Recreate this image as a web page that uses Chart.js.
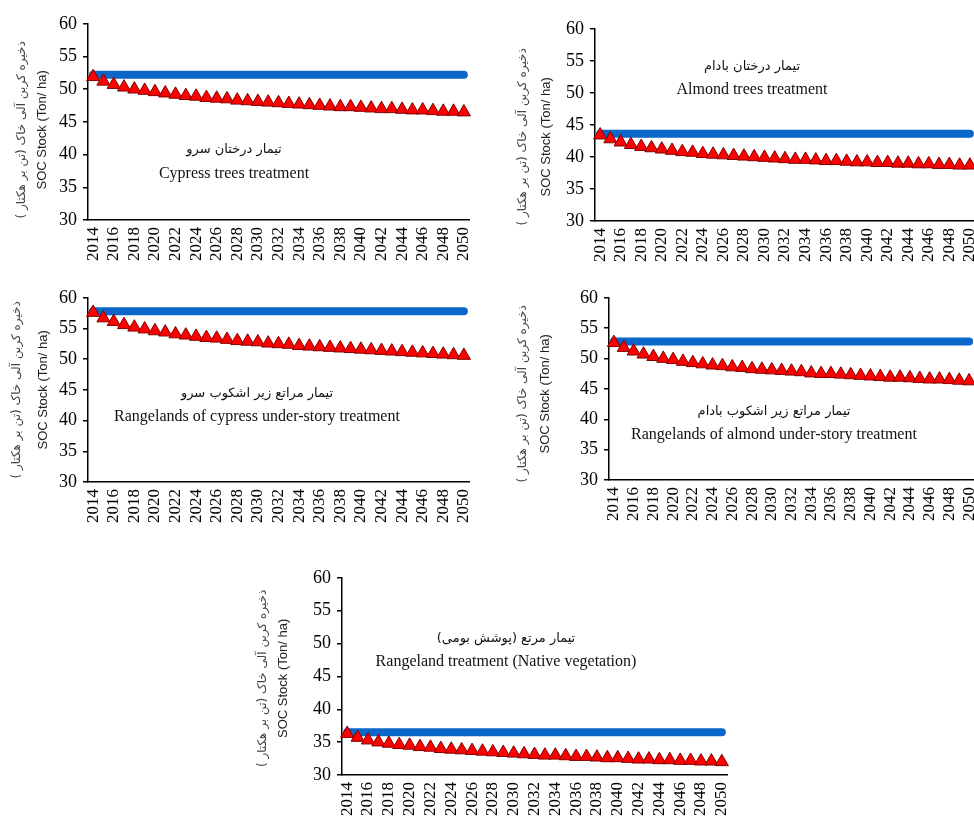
<!DOCTYPE html>
<html><head><meta charset="utf-8">
<script src="https://cdn.jsdelivr.net/npm/chart.js@4/dist/chart.umd.min.js"></script>
<style>
html,body{margin:0;padding:0;background:#fff;width:974px;height:819px;overflow:hidden;position:relative;}
canvas{position:absolute;}
</style></head><body>
<canvas id="c1"></canvas><canvas id="c2"></canvas><canvas id="c3"></canvas><canvas id="c4"></canvas><canvas id="c5"></canvas>
<script>
const years = ['2014','2015','2016','2017','2018','2019','2020','2021','2022','2023','2024','2025','2026','2027','2028','2029','2030','2031','2032','2033','2034','2035','2036','2037','2038','2039','2040','2041','2042','2043','2044','2045','2046','2047','2048','2049','2050'];
const yMin = 30, yMax = 60, yStep = 5;

// Blue: initial stock (constant), Red: projected stock
const cypressTreesBase = [52.2,52.2,52.2,52.2,52.2,52.2,52.2,52.2,52.2,52.2,52.2,52.2,52.2,52.2,52.2,52.2,52.2,52.2,52.2,52.2,52.2,52.2,52.2,52.2,52.2,52.2,52.2,52.2,52.2,52.2,52.2,52.2,52.2,52.2,52.2,52.2,52.2];
const cypressTrees = [51.9,51.2,50.7,50.3,50.0,49.8,49.6,49.4,49.2,49.0,48.9,48.7,48.6,48.5,48.3,48.2,48.1,48.0,47.9,47.8,47.7,47.6,47.5,47.4,47.3,47.3,47.2,47.1,47.0,47.0,46.9,46.8,46.8,46.7,46.6,46.6,46.5];

const almondTreesBase = [43.6,43.6,43.6,43.6,43.6,43.6,43.6,43.6,43.6,43.6,43.6,43.6,43.6,43.6,43.6,43.6,43.6,43.6,43.6,43.6,43.6,43.6,43.6,43.6,43.6,43.6,43.6,43.6,43.6,43.6,43.6,43.6,43.6,43.6,43.6,43.6,43.6];
const almondTrees = [43.4,42.8,42.3,41.9,41.6,41.4,41.2,41.0,40.8,40.7,40.5,40.4,40.3,40.2,40.1,40.0,39.9,39.8,39.7,39.6,39.6,39.5,39.4,39.4,39.3,39.2,39.2,39.1,39.1,39.0,39.0,38.9,38.9,38.8,38.8,38.7,38.7];

const cypressRangeBase = [57.8,57.8,57.8,57.8,57.8,57.8,57.8,57.8,57.8,57.8,57.8,57.8,57.8,57.8,57.8,57.8,57.8,57.8,57.8,57.8,57.8,57.8,57.8,57.8,57.8,57.8,57.8,57.8,57.8,57.8,57.8,57.8,57.8,57.8,57.8,57.8,57.8];
const cypressRange = [57.6,56.7,56.1,55.6,55.2,54.9,54.6,54.4,54.1,53.9,53.7,53.5,53.4,53.2,53.0,52.9,52.8,52.6,52.5,52.4,52.2,52.1,52.0,51.9,51.8,51.7,51.6,51.5,51.4,51.3,51.2,51.1,51.0,50.9,50.8,50.7,50.6];

const almondRangeBase = [52.8,52.8,52.8,52.8,52.8,52.8,52.8,52.8,52.8,52.8,52.8,52.8,52.8,52.8,52.8,52.8,52.8,52.8,52.8,52.8,52.8,52.8,52.8,52.8,52.8,52.8,52.8,52.8,52.8,52.8,52.8,52.8,52.8,52.8,52.8,52.8,52.8];
const almondRange = [52.6,51.8,51.2,50.7,50.3,50.0,49.8,49.5,49.3,49.1,48.9,48.8,48.6,48.5,48.3,48.2,48.1,48.0,47.9,47.8,47.6,47.5,47.5,47.4,47.3,47.2,47.1,47.0,46.9,46.9,46.8,46.7,46.6,46.6,46.5,46.4,46.3];

const nativeBase = [36.5,36.5,36.5,36.5,36.5,36.5,36.5,36.5,36.5,36.5,36.5,36.5,36.5,36.5,36.5,36.5,36.5,36.5,36.5,36.5,36.5,36.5,36.5,36.5,36.5,36.5,36.5,36.5,36.5,36.5,36.5,36.5,36.5,36.5,36.5,36.5,36.5];
const nativeRange = [36.3,35.7,35.3,35.0,34.8,34.6,34.5,34.3,34.2,34.0,33.9,33.8,33.7,33.6,33.5,33.4,33.3,33.2,33.1,33.0,33.0,32.9,32.8,32.8,32.7,32.6,32.6,32.5,32.4,32.4,32.3,32.3,32.2,32.2,32.1,32.1,32.0];

const yTitleFa = 'ذخیره کربن آلی خاک (تن بر هکتار )';
const yTitleEn = 'SOC Stock (Ton/ ha)';
const noteFa = ['تیمار درختان سرو','تیمار درختان بادام','تیمار مراتع زیر اشکوب سرو','تیمار مراتع زیر اشکوب بادام','تیمار مرتع (پوشش بومی)'];
const noteEn = ['Cypress trees treatment','Almond trees treatment','Rangelands of cypress under-story treatment','Rangelands of almond under-story treatment','Rangeland treatment (Native vegetation)'];

const L = 100, T = 15, R = 26, B = 50;

const annot = {
  id: 'annot',
  afterDraw(chart, args, o) {
    const ctx = chart.ctx, a = chart.chartArea;
    const cy = (a.top + a.bottom) / 2 + o.titleDy;
    const side = [
      {text: yTitleFa, dx: o.faDx, font: '12px "DejaVu Sans"', color: '#444', rtl: true},
      {text: yTitleEn, dx: o.enDx, font: '13px "Liberation Sans"', color: '#222', rtl: false}
    ];
    side.forEach(t => {
      ctx.save();
      ctx.translate(a.left - t.dx, cy);
      ctx.rotate(-Math.PI / 2);
      ctx.font = t.font; ctx.fillStyle = t.color;
      ctx.textAlign = 'center'; ctx.textBaseline = 'middle';
      ctx.direction = t.rtl ? 'rtl' : 'ltr';
      ctx.fillText(t.text, 0, 0);
      ctx.restore();
    });
    const notes = [
      {text: noteFa[o.idx], dx: o.nx, dy: o.faY, font: '13px "DejaVu Sans"', rtl: true},
      {text: noteEn[o.idx], dx: o.nx, dy: o.enY, font: '16px "Liberation Serif"', rtl: false}
    ];
    notes.forEach(n => {
      ctx.save();
      ctx.font = n.font; ctx.fillStyle = '#111';
      ctx.textAlign = 'center'; ctx.textBaseline = 'middle';
      ctx.direction = n.rtl ? 'rtl' : 'ltr';
      ctx.fillText(n.text, a.left + n.dx, a.top + n.dy);
      ctx.restore();
    });
  }
};

const panels = [
  {id:'c1', idx:0, axisX:88,  top:22,  right:469, bottom:220, base:cypressTreesBase, red:cypressTrees, faDx:66, enDx:46, titleDy:8,  nx:146, faY:126, enY:150},
  {id:'c2', idx:1, axisX:595, top:27,  right:975, bottom:221, base:almondTreesBase,  red:almondTrees,  faDx:72, enDx:49, titleDy:12, nx:157, faY:38,  enY:61},
  {id:'c3', idx:2, axisX:88,  top:296, right:469, bottom:482, base:cypressRangeBase, red:cypressRange, faDx:71, enDx:45, titleDy:0,  nx:169, faY:96,  enY:119},
  {id:'c4', idx:3, axisX:609, top:296, right:974, bottom:480, base:almondRangeBase,  red:almondRange,  faDx:86, enDx:64, titleDy:5,  nx:165, faY:114, enY:137},
  {id:'c5', idx:4, axisX:342, top:576, right:727, bottom:775, base:nativeBase,       red:nativeRange,  faDx:79, enDx:59, titleDy:2,  nx:164, faY:61,  enY:84}
];

panels.forEach(p => {
  const cv = document.getElementById(p.id);
  const w = L + (p.right - p.axisX) + R;
  const h = (p.bottom - p.top) + T + B;
  cv.width = w; cv.height = h;
  cv.style.left = (p.axisX - L) + 'px';
  cv.style.top = (p.top - T) + 'px';
  cv.style.width = w + 'px'; cv.style.height = h + 'px';
  new Chart(cv, {
    type: 'line',
    data: {
      labels: years,
      datasets: [
        {data: p.red, showLine: false, pointStyle: 'triangle', pointRadius: 7.6, pointBackgroundColor: '#FF0000', pointBorderColor: '#800000', pointBorderWidth: 1, order: 0, clip: false},
        {data: p.base, borderColor: '#0A66C8', borderWidth: 8, borderCapStyle: 'round', pointRadius: 0, order: 1, clip: false}
      ]
    },
    options: {
      responsive: false, animation: false, devicePixelRatio: 1,
      layout: {padding: {left: 0, top: T, right: R, bottom: 0}},
      plugins: {legend: {display: false}, tooltip: {enabled: false},
        annot: {idx: p.idx, faDx: p.faDx, enDx: p.enDx, titleDy: p.titleDy, nx: p.nx, faY: p.faY, enY: p.enY}},
      scales: {
        x: {
          type: 'category', offset: true,
          grid: {display: false, drawTicks: false},
          border: {display: true, color: '#000', width: 1.5},
          ticks: {autoSkip: false, maxRotation: 90, minRotation: 90, padding: 7, color: '#000',
            font: {family: 'Liberation Serif', size: 17},
            callback: (v, i) => (i % 2 === 0 ? years[i] : '')},
          afterFit: s => { s.height = B; }
        },
        y: {
          min: yMin, max: yMax,
          ticks: {stepSize: yStep, padding: 6, color: '#000', font: {family: 'Liberation Serif', size: 18}},
          grid: {drawOnChartArea: false, drawTicks: true, tickLength: 5, color: '#000', lineWidth: 1.5},
          border: {display: true, color: '#000', width: 1.5},
          afterFit: s => { s.width = L; }
        }
      }
    },
    plugins: [annot]
  });
});
</script>
</body></html>
